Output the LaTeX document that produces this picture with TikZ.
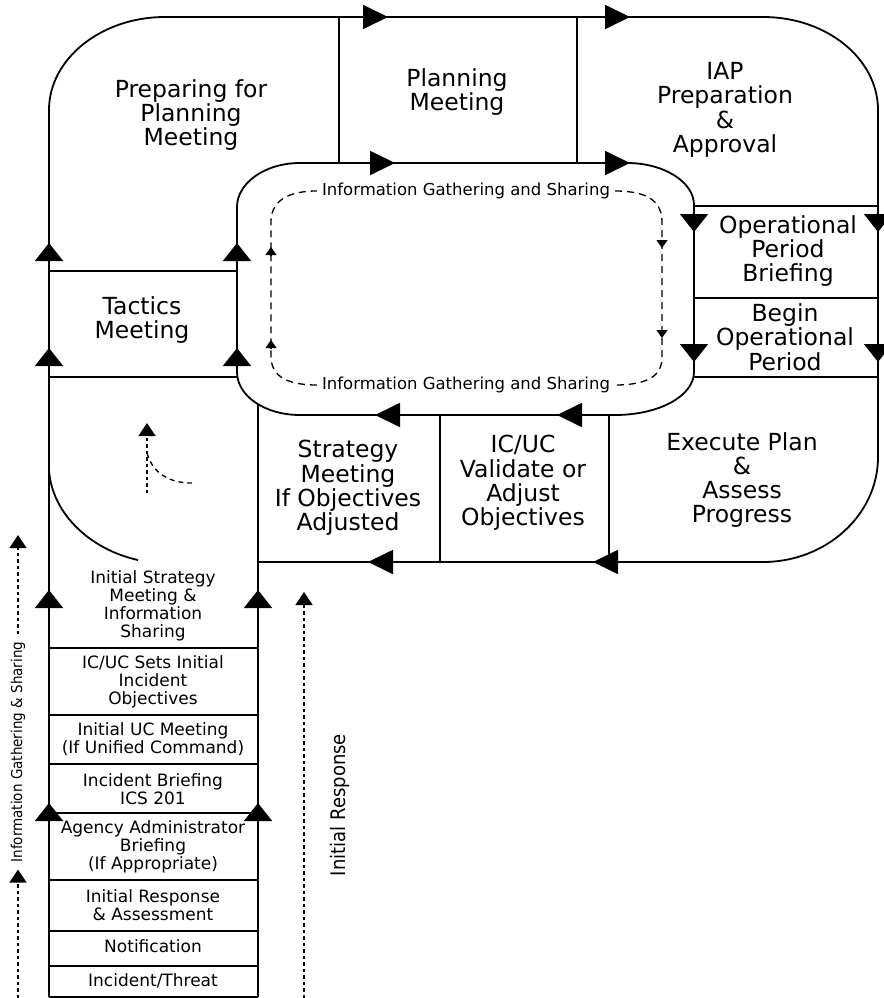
\documentclass[tikz,border=0pt]{standalone}
\usepackage{fontspec}
\setmainfont{DejaVu Sans}
\usepackage{graphicx}
\usetikzlibrary{arrows.meta}
\tikzset{
  pline/.style={line width=1.8pt, black},
  thinline/.style={line width=1.4pt, black},
  bigtxt/.style={font=\fontsize{23.5}{24.3}\selectfont, align=center, inner sep=0pt},
  stacktxt/.style={font=\fontsize{17}{18}\selectfont, align=center, inner sep=0pt},
  looptxt/.style={font=\fontsize{16.5}{18}\selectfont, inner sep=5pt},
  sidetxt/.style={rotate=90, inner sep=7pt},
  htip/.style={-{Triangle[length=25pt,width=24pt]}, line width=1.8pt},
  vtip/.style={-{Triangle[length=18pt,width=28pt]}, line width=1.8pt},
  dashloop/.style={line width=1.3pt, dash pattern=on 7pt off 5pt},
  smalltip/.style={-{Triangle[length=8pt,width=11pt]}, line width=1.3pt},
  dotline/.style={line width=1.4pt, dash pattern=on 3.5pt off 3pt},
  dottip/.style={-{Triangle[length=13pt,width=17pt]}},
}

\begin{document}
\begin{tikzpicture}[x=1pt, y=-1pt]
  \useasboundingbox (0,0) rectangle (883,998);
  \fill[white] (0,0) rectangle (883,998);

  % outer loop of the P
  \draw[pline] (49,997) -- (49,110) .. controls (49,59) and (101,17) .. (165,17)
    -- (763,17) .. controls (827,17) and (878,59) .. (878,110)
    -- (878,457) .. controls (878,515) and (826,562) .. (763,562) -- (258,562);
  % inner loop
  \draw[pline] (300,163) -- (627,163) .. controls (664,163) and (694,182) .. (694,205)
    -- (694,372) .. controls (694,396) and (659,415) .. (615,415)
    -- (300,415) .. controls (265,415) and (237,396) .. (237,372)
    -- (237,207) .. controls (237,183) and (265,163) .. (300,163) -- cycle;
  \draw[pline] (258,404) -- (258,997);
  \draw[pline] (49,470) .. controls (52,515) and (92,550) .. (138,560);

  % dividers
  \draw[thinline] (49,271) -- (237,271);
  \draw[thinline] (49,377) -- (237,377);
  \draw[thinline] (339,17) -- (339,163);
  \draw[thinline] (577,17) -- (577,163);
  \foreach \y in {206,298,377}
    \draw[thinline] (694,\y) -- (878,\y);
  \draw[thinline] (440,415) -- (440,562);
  \draw[thinline] (609,415) -- (609,562);
  \foreach \y in {648,715,764,813,880,931,966,997}
    \draw[thinline] (49,\y) -- (258,\y);

  % flow arrows
  \foreach \x in {388,630}
    \draw[htip] ({\x-25},17) -- (\x,17);
  \foreach \x in {395,630}
    \draw[htip] ({\x-25},163) -- (\x,163);
  \foreach \x in {375,557}
    \draw[htip] ({\x+25},415) -- (\x,415);
  \foreach \x in {368,593}
    \draw[htip] ({\x+25},562) -- (\x,562);
  \foreach \x in {694,878}
    \foreach \y in {232,362}
      \draw[vtip] (\x,{\y-18}) -- (\x,\y);
  \foreach \x in {49,237}
    \foreach \y in {243,348}
      \draw[vtip] (\x,{\y+18}) -- (\x,\y);
  \foreach \x in {49,258}
    \foreach \y in {590,803}
      \draw[vtip] (\x,{\y+18}) -- (\x,\y);

  % cycle steps
  \node[bigtxt] (prep) at (191,115) {Preparing for\\Planning\\Meeting};
  \node[bigtxt] (plan) at (457,92) {Planning\\Meeting};
  \node[bigtxt] (iap) at (725,110) {IAP\\Preparation\\\&\\Approval};
  \node[bigtxt] (opbrief) at (788,251) {Operational\\Period\\Briefing};
  \node[bigtxt] (opbegin) at (785,337) {Begin\\Operational\\Period};
  \node[bigtxt] (exec) at (742,480) {Execute Plan\\\&\\Assess\\Progress};
  \node[bigtxt] (valid) at (523,483) {IC/UC\\Validate or\\Adjust\\Objectives};
  \node[bigtxt] (strat) at (348,488) {Strategy\\Meeting\\If Objectives\\Adjusted};
  \node[bigtxt] (tact) at (142,320) {Tactics\\Meeting};

  % initial response stack
  \node[stacktxt] (inistrat) at (153,606) {Initial Strategy\\Meeting \&\\Information\\Sharing};
  \node[stacktxt] (objset) at (153,682) {IC/UC Sets Initial\\Incident\\Objectives};
  \node[stacktxt] (ucmeet) at (153,739) {Initial UC Meeting\\(If Unified Command)};
  \node[stacktxt] (brief) at (153,789) {Incident Briefing\\ICS 201};
  \node[stacktxt] (agency) at (153,847) {Agency Administrator\\Briefing\\(If Appropriate)};
  \node[stacktxt] (assess) at (153,905) {Initial Response\\\& Assessment};
  \node[stacktxt] (notif) at (153,946) {Notification};
  \node[stacktxt] (threat) at (153,981) {Incident/Threat};

  % information loop
  \node[looptxt] (gtop) at (466,191) {Information Gathering and Sharing};
  \node[looptxt] (gbot) at (466,385) {Information Gathering and Sharing};
  \draw[dashloop] (gtop.east) .. controls (650,191) and (662,203) .. (662,222)
    -- (662,358) .. controls (662,374) and (650,385) .. (gbot.east);
  \draw[dashloop] (gbot.west) .. controls (282,385) and (271,373) .. (271,356)
    -- (271,222) .. controls (271,205) and (282,191) .. (gtop.west);
  \foreach \y in {247,340}
    \draw[smalltip] (271,{\y+8}) -- (271,\y);
  \foreach \y in {248,338}
    \draw[smalltip] (662,{\y-8}) -- (662,\y);

  % small sketch inside the P
  \draw[dotline, dottip] (147,493) -- (147,423);
  \draw[dashloop, dash pattern=on 5pt off 4pt] (147,453) .. controls (153,474) and (170,483) .. (192,483);

  % side labels
  \node[sidetxt, font=\fontsize{15}{15}\selectfont] (igs) at (18,752)
    {\scalebox{0.9}[1]{Information Gathering \& Sharing}};
  \coordinate (igsbase) at (18,998);
  \coordinate (igsend) at (18,535);
  \draw[dotline, dottip] (igsbase) -- (igs.west);
  \draw[dotline, dottip] (igs.east) -- (igsend);
  \node[sidetxt, font=\fontsize{20}{20}\selectfont] (ir) at (340,805)
    {\scalebox{0.9}[1]{Initial Response}};
  \coordinate (irbase) at (304,998);
  \coordinate (irend) at (304,592);
  \draw[dotline, dottip] (irbase) -- (irend);
\end{tikzpicture}
\end{document}
